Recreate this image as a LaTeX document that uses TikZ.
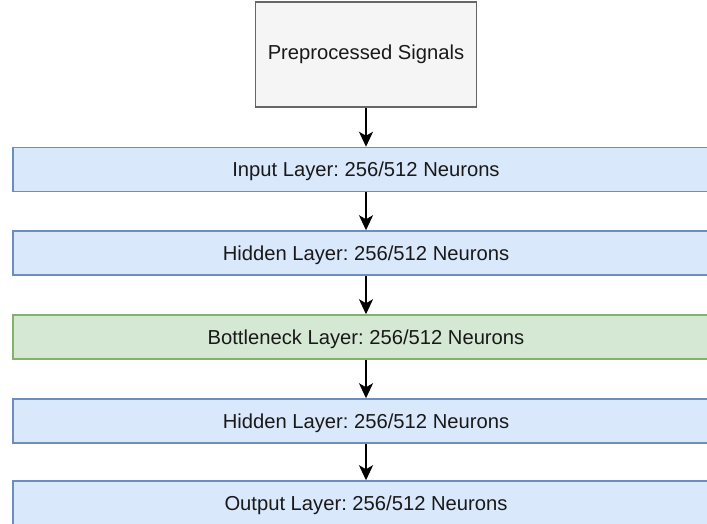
\documentclass[tikz,border=0pt]{standalone}
\usepackage{fontspec}
\setmainfont{Liberation Sans}
\usetikzlibrary{arrows.meta}
\frenchspacing
\begin{document}
\begin{tikzpicture}[x=1pt,y=-1pt,
  every node/.style={font=\fontsize{20.2}{24}\selectfont, text=black!90, inner sep=0pt},
  layer/.style={line width=1.5pt, minimum width=706pt, minimum height=44pt, text depth=-1.5pt},
  bluelayer/.style={layer, fill={rgb,255:red,218;green,232;blue,252}, draw={rgb,255:red,108;green,142;blue,191}},
  greenlayer/.style={layer, fill={rgb,255:red,213;green,232;blue,212}, draw={rgb,255:red,130;green,179;blue,102}},
  srcbox/.style={draw={rgb,255:red,102;green,102;blue,102}, fill={rgb,255:red,245;green,245;blue,245}, line width=1.5pt, minimum width=221pt, minimum height=105pt},
  flow/.style={-{Stealth[length=15pt,width=14pt,inset=4pt]}, line width=1.8pt, black}
]
\useasboundingbox (0,0) rectangle (707,524);
\node[srcbox] (src) at (366,54.5) {Preprocessed Signals};
\node[bluelayer] (in) at (366,169.5) {Input Layer: 256/512 Neurons};
\node[bluelayer] (h1) at (366,253) {Hidden Layer: 256/512 Neurons};
\node[greenlayer] (bn) at (366,337) {Bottleneck Layer: 256/512 Neurons};
\node[bluelayer] (h2) at (366,421) {Hidden Layer: 256/512 Neurons};
\node[bluelayer] (out) at (366,503) {Output Layer: 256/512 Neurons};
\draw[flow] (src) -- (in);
\draw[flow] (in) -- (h1);
\draw[flow] (h1) -- (bn);
\draw[flow] (bn) -- (h2);
\draw[flow] (h2) -- (out);
\end{tikzpicture}
\end{document}
